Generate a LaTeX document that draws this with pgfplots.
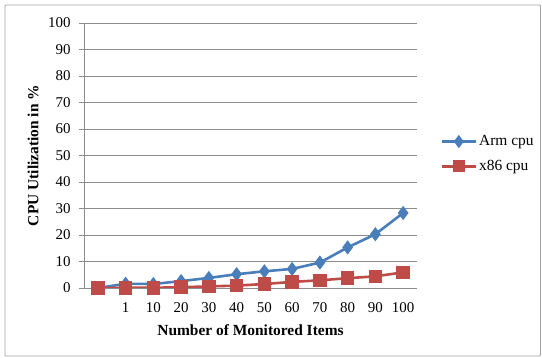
\documentclass[border=0pt]{standalone}
\usepackage{pgfplots}
\pgfplotsset{compat=1.18}
\usepackage{fontspec}
\setmainfont{Liberation Serif}

\definecolor{armblue}{HTML}{4A7EBB}
\definecolor{xred}{HTML}{BE4B48}
\definecolor{gridgray}{HTML}{8C8C8C}

\begin{document}
\begin{tikzpicture}
\useasboundingbox (0,0) rectangle (542bp,358bp);
% outer chart frame
\draw[gridgray!80, line width=0.9bp, rounded corners=1bp] (5bp,2bp) rectangle (540.5bp,353bp);
\begin{axis}[
  at={(84bp,70bp)}, anchor=south west,
  scale only axis,
  width=333bp, height=265bp,
  xmin=-0.5, xmax=11.5,
  ymin=0, ymax=100,
  ytick={0,10,...,100},
  xtick={1,...,11},
  xticklabels={1,10,20,30,40,50,60,70,80,90,100},
  axis x line*=bottom,
  axis y line*=left,
  axis line style={gridgray, line width=0.8bp, -},
  ymajorgrids,
  grid style={gridgray, line width=0.8bp},
  tick align=outside,
  major tick length=5bp,
  xtick style={draw=none},
  ytick style={gridgray, line width=0.8bp},
  tick label style={font=\fontsize{15}{17}\selectfont, /pgf/number format/assume math mode=true},
  xticklabel style={yshift=-6bp},
  yticklabel style={xshift=-5bp},
  xlabel={\textbf{Number of Monitored Items}},
  ylabel={\textbf{CPU Utilization in \%}},
  label style={font=\fontsize{15.5}{17}\selectfont},
  xlabel style={at={(axis description cs:0.5,-0.158)}, anchor=center},
  ylabel style={at={(axis description cs:-0.153,0.5)}, anchor=center},
  legend style={draw=none, fill=none, at={(axis description cs:1.07,0.506)}, anchor=west,
    font=\fontsize{15.5}{17}\selectfont, row sep=9bp, inner xsep=0pt},
  legend cell align=left,
  legend image code/.code={
    \draw[#1] (0bp,0bp) -- (17bp,0bp);
    \draw[#1, only marks, mark size=4.5bp] plot coordinates {(17bp,0bp)};
    \draw[#1] (17bp,0bp) -- (34bp,0bp);
  },
]
\addplot[armblue, line width=2.6bp, mark=diamond*, mark size=5bp, mark options={solid, fill=armblue}]
  coordinates {(0,0) (1,1.6) (2,1.5) (3,2.6) (4,3.8) (5,5.2) (6,6.3) (7,7.2) (8,9.6) (9,15.3) (10,20.3) (11,28.3)};
\addlegendentry{Arm cpu}
\addplot[xred, line width=2.6bp, mark=square*, mark size=5.5bp, mark options={solid, fill=xred}]
  coordinates {(0,0) (1,0.1) (2,0.1) (3,0.3) (4,0.6) (5,0.9) (6,1.5) (7,2.3) (8,2.9) (9,3.7) (10,4.4) (11,5.9)};
\addlegendentry{x86 cpu}
\end{axis}
\end{tikzpicture}
\end{document}
